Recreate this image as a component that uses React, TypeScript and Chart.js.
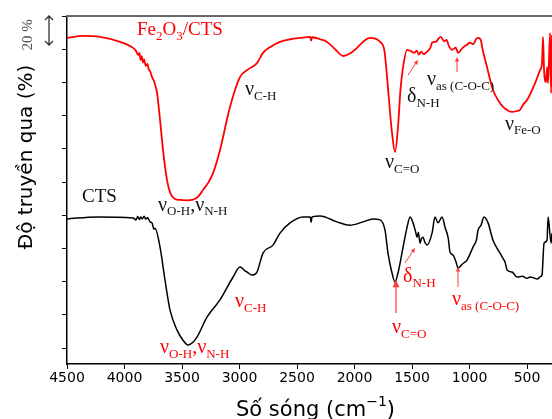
import React, { useEffect, useRef } from "react";
import { Chart, registerables } from "chart.js";
Chart.register(...registerables);

const xTicks = [4500, 4000, 3500, 3000, 2500, 2000, 1500, 1000, 500];
const yTicks = [0, 10, 20, 30, 40, 50, 60, 70, 80, 90, 100];

const fe2o3Wavenumber = [
  4500, 4361, 4213, 4039, 3926, 3900, 3880, 3870, 3860, 3850, 3840, 3830, 3815, 3800, 3790, 3775,
  3760, 3745, 3730, 3717, 3691, 3665, 3630, 3600, 3560, 3517, 3460, 3404, 3360, 3317, 3270, 3230, 3170, 3083, 2996, 2935,
  2848, 2796, 2735, 2648, 2560, 2474, 2385, 2377, 2370, 2300, 2239, 2160, 2100, 2040, 1978, 1920, 1865, 1778, 1740, 1717, 1690, 1674, 1648,
  1622, 1600, 1578, 1543, 1510, 1480, 1460, 1440, 1420, 1400, 1370, 1340, 1325, 1290, 1270, 1250, 1220,
  1200, 1180, 1152, 1120, 1100, 1060, 1020, 996, 970, 940, 926, 900, 891, 848, 796, 740, 709,
  660, 630, 587, 561, 530, 500, 430, 387, 370, 361, 352, 335, 326, 317, 300, 291, 283,
];
const fe2o3Transmittance = [
  93.4, 94.0, 93.7, 92.2, 90.4, 89.5, 88.2, 88.9, 86.8, 87.9, 86.0, 86.9, 85.0, 85.6, 84.0, 83.2,
  81.5, 80.5, 78.8, 76.8, 68.7, 59.6, 50.5, 46.5, 44.9, 44.6, 44.5, 44.7, 45.6, 47.6, 49.9, 52.7, 59.6, 72.6, 81.6, 83.7,
  85.8, 88.9, 90.6, 92.2, 93.0, 93.4, 93.7, 92.6, 93.6, 93.0, 92.2, 89.7, 87.95, 88.7, 90.4, 92.4, 93.4, 92.2, 89.5, 81.6, 70.5, 64.8, 59.0,
  66.6, 78.0, 84.6, 89.8, 89.4, 88.9, 89.6, 88.4, 89.3, 88.5, 89.2, 90.5, 92.0, 92.3, 93.2, 93.7, 92.4,
  92.8, 91.0, 89.8, 90.5, 88.9, 90.4, 91.4, 92.0, 91.5, 93.2, 93.4, 92.6, 90.7, 84.6, 77.7, 74.0, 72.6,
  71.4, 71.1, 71.4, 71.7, 73.5, 74.7, 79.8, 83.7, 85.8, 93.7, 83.7, 80.1, 84.6, 79.8, 94.9, 76.8, 94.3,
];

const ctsWavenumber = [
  4500, 4239, 3926, 3900, 3885, 3870, 3860, 3845, 3830, 3815, 3800, 3778, 3760, 3745, 3735, 3691,
  3648, 3604, 3543, 3490, 3448, 3410, 3370, 3283, 3170, 3056, 2996, 2950, 2935, 2891, 2848, 2796, 2709, 2648, 2561,
  2448, 2385, 2377, 2370, 2300, 2152, 2039, 1926, 1839, 1778, 1735, 1709, 1674, 1648, 1622, 1578,
  1543, 1517, 1491, 1470, 1457, 1445, 1430, 1418, 1404, 1390, 1370, 1326, 1300, 1274, 1239, 1213,
  1185, 1170, 1143, 1120, 1100, 1060, 1022, 970, 940, 926, 900, 874, 839, 796, 735, 700, 691, 674,
  630, 587, 540, 500, 474, 440, 413, 380, 370, 352, 326, 317, 291, 283,
];
const ctsTransmittance = [
  38.9, 39.5, 39.2, 38.6, 39.6, 38.7, 39.5, 38.9, 39.7, 38.8, 39.3, 38.0, 37.6, 35.8, 36.1, 30.4,
  20.5, 11.4, 5.4, 2.3, 0.9, 1.6, 3.3, 9.3, 14.5, 21.4, 24.4, 23.2, 22.9, 22.0, 22.9, 28.6, 31.0, 34.6, 37.7,
  39.5, 39.5, 37.9, 39.5, 39.8, 38.0, 37.0, 38.0, 38.9, 38.6, 35.5, 28.6, 22.6, 19.9, 22.6, 30.4,
  36.4, 39.5, 37.7, 35.2, 33.4, 34.8, 31.6, 33.0, 33.4, 32.0, 31.0, 34.6, 39.5, 37.7, 39.5, 36.4,
  33.0, 28.9, 28.0, 26.2, 24.1, 25.4, 26.5, 30.4, 32.6, 35.5, 37.0, 39.5, 37.7, 32.5, 28.6, 26.5, 25.9, 23.5,
  22.9, 21.4, 21.6, 21.0, 21.4, 21.1, 20.8, 21.6, 22.0, 31.6, 32.5, 39.5, 31.6, 34.6,
];

type Seg = [string, number];
const SERIF = '"Liberation Serif", "Times New Roman", serif';
const SANS = '"DejaVu Sans", Verdana, sans-serif';

function rich(ctx: CanvasRenderingContext2D, x: number, y: number, segs: Seg[], color: string, main: number, sub: number, off: number) {
  let cx = x;
  ctx.fillStyle = color;
  ctx.textAlign = "left";
  ctx.textBaseline = "alphabetic";
  for (const [t, k] of segs) {
    ctx.font = `${k ? sub : main}px ${SERIF}`;
    ctx.fillText(t, cx, k ? y + off : y);
    cx += ctx.measureText(t).width;
  }
}

function arrow(ctx: CanvasRenderingContext2D, x1: number, y1: number, x2: number, y2: number, color: string, head: number, lw: number) {
  const a = Math.atan2(y2 - y1, x2 - x1);
  ctx.strokeStyle = color;
  ctx.fillStyle = color;
  ctx.lineWidth = lw;
  ctx.beginPath();
  ctx.moveTo(x1, y1);
  ctx.lineTo(x2 - Math.cos(a) * head * 0.7, y2 - Math.sin(a) * head * 0.7);
  ctx.stroke();
  ctx.beginPath();
  ctx.moveTo(x2, y2);
  ctx.lineTo(x2 - head * Math.cos(a - 0.45), y2 - head * Math.sin(a - 0.45));
  ctx.lineTo(x2 - head * Math.cos(a + 0.45), y2 - head * Math.sin(a + 0.45));
  ctx.closePath();
  ctx.fill();
}

const annotate = {
  id: "annotate",
  afterDraw(chart: any) {
    const ctx: CanvasRenderingContext2D = chart.ctx;
    const { left, top, right } = chart.chartArea;
    ctx.save();
    // top frame line
    ctx.strokeStyle = "#666";
    ctx.lineWidth = 2;
    ctx.beginPath();
    ctx.moveTo(left - 1, top);
    ctx.lineTo(right, top);
    ctx.stroke();

    const red = "#ff0000";
    const lred = "#ff3b3b";
    const blk = "#111";

    // series names
    rich(ctx, 137, 35, [["Fe", 0], ["2", 1], ["O", 0], ["3", 1], ["/CTS", 0]], red, 19, 13, 5);
    rich(ctx, 82, 202, [["CTS", 0]], blk, 19, 13, 5);

    // Fe2O3/CTS band labels
    rich(ctx, 245, 95, [["ν", 0], ["C-H", 1]], blk, 20, 13, 5);
    rich(ctx, 158, 211, [["ν", 0], ["O-H", 1], [",", 0], ["ν", 0], ["N-H", 1]], blk, 20, 13, 4);
    rich(ctx, 385, 168, [["ν", 0], ["C=O", 1]], blk, 20, 13, 5);
    rich(ctx, 407, 102, [["δ", 0], ["N-H", 1]], blk, 20, 13, 5);
    rich(ctx, 427, 85, [["ν", 0], ["as (C-O-C)", 1]], blk, 20, 13, 5);
    rich(ctx, 505, 130, [["ν", 0], ["Fe-O", 1]], blk, 20, 13, 4);
    arrow(ctx, 408, 75, 418, 60, lred, 5, 1);
    arrow(ctx, 457, 72, 457, 57, lred, 5, 1);

    // CTS band labels
    rich(ctx, 235, 307, [["ν", 0], ["C-H", 1]], red, 20, 13, 5);
    rich(ctx, 160, 353, [["ν", 0], ["O-H", 1], [",", 0], ["ν", 0], ["N-H", 1]], red, 20, 13, 5);
    rich(ctx, 392, 333, [["ν", 0], ["C=O", 1]], red, 20, 13, 5);
    rich(ctx, 403, 282, [["δ", 0], ["N-H", 1]], red, 20, 13, 5);
    rich(ctx, 452, 305, [["ν", 0], ["as (C-O-C)", 1]], red, 20, 13, 5);
    arrow(ctx, 396, 313, 396, 280, lred, 8, 1.2);
    arrow(ctx, 405, 263, 415, 248, lred, 5, 1);
    arrow(ctx, 458, 287, 458, 267, lred, 5, 1);

    // 20 % scale marker
    ctx.save();
    ctx.translate(28, 35);
    ctx.rotate(-Math.PI / 2);
    ctx.font = `15px ${SERIF}`;
    ctx.fillStyle = "#555";
    ctx.textAlign = "center";
    ctx.textBaseline = "middle";
    ctx.fillText("20 %", 0, 0);
    ctx.restore();
    ctx.strokeStyle = "#333";
    ctx.lineWidth = 1.3;
    ctx.beginPath();
    ctx.moveTo(49, 16);
    ctx.lineTo(49, 45);
    ctx.moveTo(45, 20);
    ctx.lineTo(49, 16);
    ctx.lineTo(53, 20);
    ctx.moveTo(45, 41);
    ctx.lineTo(49, 45);
    ctx.lineTo(53, 41);
    ctx.stroke();

    // y title
    ctx.save();
    ctx.translate(27, 157);
    ctx.rotate(-Math.PI / 2);
    ctx.font = `20px ${SANS}`;
    ctx.fillStyle = "#000";
    ctx.textAlign = "center";
    ctx.textBaseline = "middle";
    ctx.fillText("Độ truyền qua (%)", 0, 0);
    ctx.restore();

    // x title
    ctx.fillStyle = "#000";
    ctx.textAlign = "left";
    ctx.textBaseline = "alphabetic";
    let cx = 236;
    ctx.font = `21px ${SANS}`;
    ctx.fillText("Số sóng (cm", cx, 416);
    cx += ctx.measureText("Số sóng (cm").width;
    ctx.font = `14px ${SANS}`;
    ctx.fillText("−1", cx, 406);
    cx += ctx.measureText("−1").width;
    ctx.font = `21px ${SANS}`;
    ctx.fillText(")", cx, 416);
    ctx.restore();
  },
};

export default function App() {
  const ref = useRef<HTMLCanvasElement | null>(null);
  useEffect(() => {
    if (!ref.current) return;
    const toPts = (xs: number[], ys: number[]) => xs.map((x, i) => ({ x, y: ys[i] }));
    const chart = new Chart(ref.current, {
      type: "line",
      data: {
        datasets: [
          {
            label: "Fe2O3/CTS",
            data: toPts(fe2o3Wavenumber, fe2o3Transmittance),
            borderColor: "#ff0000",
            borderWidth: 1.8,
            pointRadius: 0,
            cubicInterpolationMode: "monotone",
            fill: false,
          },
          {
            label: "CTS",
            data: toPts(ctsWavenumber, ctsTransmittance),
            borderColor: "#000000",
            borderWidth: 1.5,
            pointRadius: 0,
            cubicInterpolationMode: "monotone",
            fill: false,
          },
        ],
      },
      options: {
        animation: false,
        responsive: false,
        devicePixelRatio: 1,
        layout: { padding: { left: 0, right: 0, top: 16, bottom: 0 } },
        plugins: { legend: { display: false }, tooltip: { enabled: false }, title: { display: false } },
        scales: {
          x: {
            type: "linear",
            reverse: true,
            min: 283,
            max: 4500,
            afterBuildTicks: (s: any) => {
              s.ticks = xTicks.map((v) => ({ value: v }));
            },
            afterFit: (s: any) => {
              s.height = 55;
            },
            grid: { display: true, drawOnChartArea: false, drawTicks: true, tickLength: 5, color: "#000", lineWidth: 1 },
            border: { display: true, color: "#000", width: 1.5 },
            ticks: {
              color: "#000",
              font: { family: "DejaVu Sans", size: 14 },
              padding: 1,
              maxRotation: 0,
              autoSkip: false,
              callback: (v: any) => String(v),
            },
          },
          y: {
            type: "linear",
            min: -4.8,
            max: 100,
            afterBuildTicks: (s: any) => {
              s.ticks = yTicks.map((v) => ({ value: v }));
            },
            afterFit: (s: any) => {
              s.width = 67;
            },
            grid: { display: true, drawOnChartArea: false, drawTicks: true, tickLength: 5, color: "#000", lineWidth: 1 },
            border: { display: true, color: "#000", width: 1.5 },
            ticks: { display: true, callback: () => "", padding: 0 },
          },
        },
      },
      plugins: [annotate],
    });
    return () => chart.destroy();
  }, []);
  return (
    <div style={{ position: "absolute", left: 0, top: 0, width: 552, height: 419, background: "#fff" }}>
      <canvas ref={ref} width={552} height={419} style={{ width: 552, height: 419, display: "block" }} />
    </div>
  );
}
